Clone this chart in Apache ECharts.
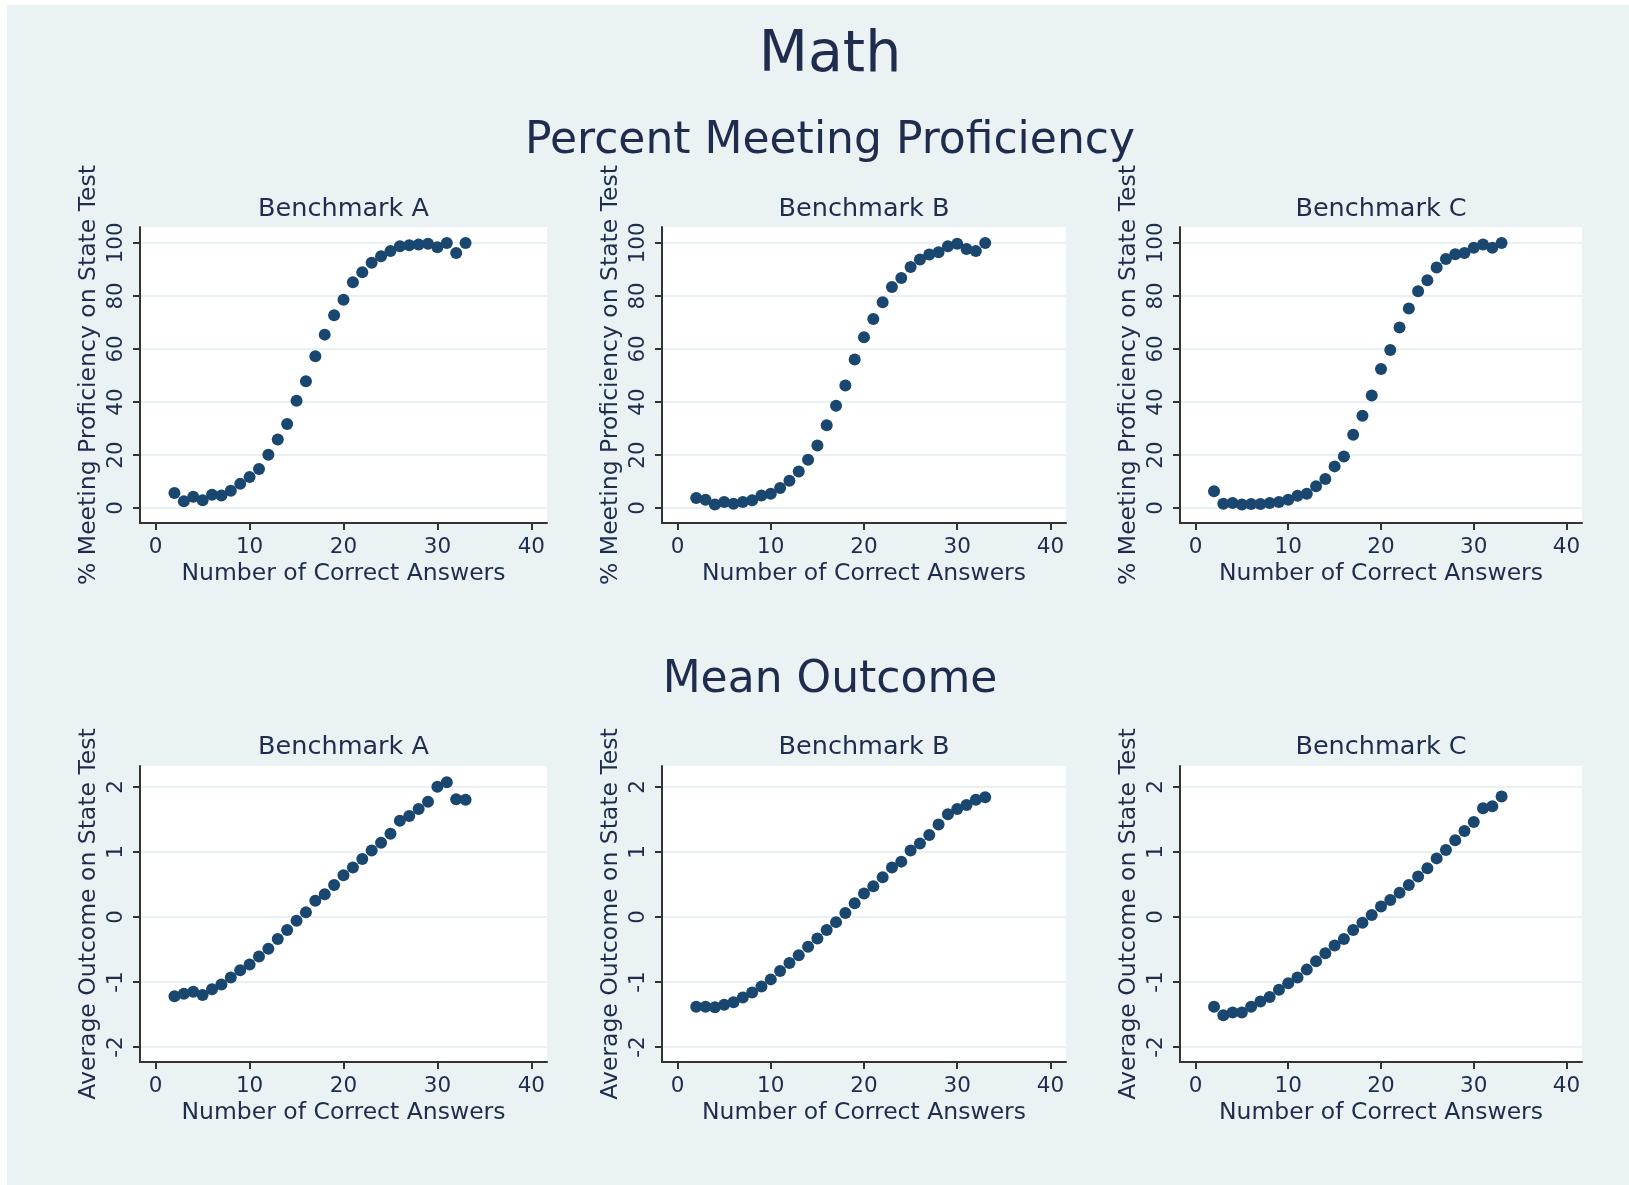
<!DOCTYPE html>
<html>
<head>
<meta charset="utf-8">
<title>Math</title>
<script src="https://cdn.jsdelivr.net/npm/echarts@6/dist/echarts.min.js"></script>
<style>
  html, body { margin: 0; padding: 0; background: #ffffff; }
  #chart { position: absolute; left: 7px; top: 5px; width: 1622px; height: 1180px; }
</style>
</head>
<body>
<div id="chart"></div>
<script>
// Number of correct answers (same for every panel)
const answers = [2, 3, 4, 5, 6, 7, 8, 9, 10, 11, 12, 13, 14, 15, 16, 17,
                 18, 19, 20, 21, 22, 23, 24, 25, 26, 27, 28, 29, 30, 31, 32, 33];

// % meeting proficiency on the state test
const proficiencyA = [5.7, 2.5, 4.2, 2.9, 5.0, 4.7, 6.5, 9.1, 11.7, 14.7, 20.1, 25.8, 31.7, 40.5, 47.8, 57.2,
                      65.4, 72.7, 78.6, 85.2, 88.9, 92.5, 95.0, 96.9, 98.7, 99.1, 99.4, 99.7, 98.4, 100, 96.2, 100];
const proficiencyB = [3.8, 3.1, 1.3, 2.3, 1.6, 2.3, 2.9, 4.7, 5.4, 7.5, 10.3, 13.8, 18.2, 23.6, 31.2, 38.6,
                      46.2, 56.0, 64.4, 71.3, 77.6, 83.4, 86.8, 90.9, 93.7, 95.6, 96.5, 98.7, 99.7, 97.7, 96.9, 100];
const proficiencyC = [6.3, 1.6, 1.9, 1.3, 1.5, 1.5, 1.9, 2.3, 3.1, 4.6, 5.4, 8.2, 10.9, 15.7, 19.4, 27.6,
                      34.8, 42.4, 52.4, 59.6, 68.1, 75.3, 81.8, 85.9, 90.7, 93.9, 95.7, 96.2, 98.2, 99.4, 98.2, 100];

// Average outcome on the state test
const outcomeA = [-1.22, -1.18, -1.15, -1.20, -1.11, -1.04, -0.93, -0.82, -0.73, -0.61, -0.49, -0.34, -0.20, -0.06, 0.07, 0.25,
                  0.35, 0.49, 0.64, 0.76, 0.89, 1.02, 1.14, 1.28, 1.48, 1.55, 1.66, 1.77, 2.00, 2.07, 1.81, 1.80];
const outcomeB = [-1.38, -1.38, -1.39, -1.35, -1.31, -1.24, -1.16, -1.07, -0.96, -0.83, -0.71, -0.59, -0.46, -0.33, -0.20, -0.08,
                  0.06, 0.21, 0.36, 0.47, 0.61, 0.76, 0.85, 1.02, 1.13, 1.26, 1.42, 1.58, 1.66, 1.72, 1.80, 1.84];
const outcomeC = [-1.38, -1.51, -1.47, -1.47, -1.38, -1.30, -1.23, -1.12, -1.02, -0.93, -0.81, -0.68, -0.56, -0.44, -0.34, -0.20,
                  -0.09, 0.03, 0.16, 0.26, 0.37, 0.49, 0.62, 0.75, 0.90, 1.03, 1.18, 1.32, 1.46, 1.67, 1.70, 1.85];

const benchmarks = ['Benchmark A', 'Benchmark B', 'Benchmark C'];
const answerTicks = [0, 10, 20, 30, 40];
const proficiencyTicks = [0, 20, 40, 60, 80, 100];
const outcomeTicks = [-2, -1, 0, 1, 2];

const pageTitle = 'Math';
const rowTitles = ['Percent Meeting Proficiency', 'Mean Outcome'];
const xTitle = 'Number of Correct Answers';
const yTitles = ['% Meeting Proficiency on State Test', 'Average Outcome on State Test'];

// ---- look ----
const FONT = 'DejaVu Sans';
const INK = '#1f2c4d';
const MARKER = '#1A476F';
const AXIS = '#333333';
const GRIDLINE = '#e3edf0';

// plot regions (px inside the chart box)
const colLeft = [133, 655, 1173];
const colWidth = [407, 404, 402];
const rowTop = [222, 761];
const rowHeight = 296;
const titleY = [51, 136.5, 675.5];
const panelTitleY = [204.8, 742.8];
const centerX = 823;

const rows = [
  { values: [proficiencyA, proficiencyB, proficiencyC], ticks: proficiencyTicks, min: -5.66, max: 106, name: yTitles[0] },
  { values: [outcomeA, outcomeB, outcomeC], ticks: outcomeTicks, min: -2.23, max: 2.32, name: yTitles[1] }
];

const grid = [], xAxis = [], yAxis = [], series = [], graphic = [];

function textEl(text, x, y, size) {
  return {
    type: 'text', x: x, y: y, silent: true,
    style: { text: text, fill: INK, fontFamily: FONT, fontSize: size, align: 'center', verticalAlign: 'middle' }
  };
}

graphic.push(textEl(pageTitle, centerX, titleY[0], 57));
graphic.push(textEl(rowTitles[0], centerX, titleY[1], 44));
graphic.push(textEl(rowTitles[1], centerX, titleY[2], 44));

rows.forEach((row, r) => {
  for (let c = 0; c < 3; c++) {
    const idx = grid.length;
    grid.push({
      left: colLeft[c], top: rowTop[r], width: colWidth[c], height: rowHeight,
      show: true, backgroundColor: '#ffffff', borderWidth: 0, containLabel: false
    });
    graphic.push(textEl(benchmarks[c], colLeft[c] + colWidth[c] / 2, panelTitleY[r], 25.5));
    xAxis.push({
      type: 'value', gridIndex: idx, min: -1.67, max: 41.67,
      name: xTitle, nameLocation: 'middle', nameGap: 38.5,
      nameTextStyle: { color: INK, fontFamily: FONT, fontSize: 23.5 },
      axisLine: { show: true, onZero: false, lineStyle: { color: AXIS, width: 2 } },
      axisTick: { show: true, length: 7, customValues: answerTicks, lineStyle: { color: AXIS, width: 2 } },
      axisLabel: { customValues: answerTicks, margin: 13.5, color: INK, fontFamily: FONT, fontSize: 21.5 },
      splitLine: { show: false }
    });
    yAxis.push({
      type: 'value', gridIndex: idx, min: row.min, max: row.max,
      name: row.name, nameLocation: 'middle', nameGap: 39.5,
      nameTextStyle: { color: INK, fontFamily: FONT, fontSize: 23.5 },
      axisLine: { show: true, onZero: false, lineStyle: { color: AXIS, width: 2 } },
      axisTick: { show: true, length: 7, customValues: row.ticks, lineStyle: { color: AXIS, width: 2 } },
      axisLabel: { customValues: row.ticks, rotate: 90, margin: 13, color: INK, fontFamily: FONT, fontSize: 21.5 },
      splitLine: { show: true, lineStyle: { color: GRIDLINE, width: 1.5 } }
    });
    series.push({
      type: 'scatter', xAxisIndex: idx, yAxisIndex: idx,
      symbol: 'circle', symbolSize: 12,
      itemStyle: { color: MARKER, opacity: 1 },
      data: answers.map((a, k) => [a, row.values[c][k]])
    });
  }
});

const chart = echarts.init(document.getElementById('chart'), null, { renderer: 'canvas' });
chart.setOption({
  animation: false,
  backgroundColor: '#eaf2f3',
  textStyle: { fontFamily: FONT },
  grid: grid, xAxis: xAxis, yAxis: yAxis, series: series, graphic: graphic
});
</script>
</body>
</html>
